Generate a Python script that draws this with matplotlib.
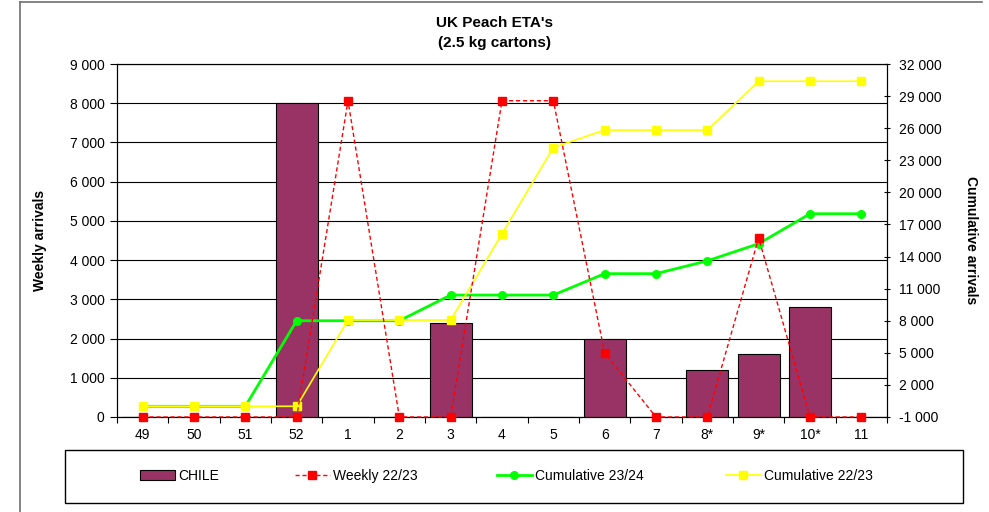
import matplotlib
matplotlib.use("Agg")
import matplotlib.pyplot as plt
from matplotlib.lines import Line2D
from matplotlib.patches import Rectangle
from matplotlib.ticker import FuncFormatter, FixedLocator, MultipleLocator

plt.rcParams['font.family'] = ['Liberation Sans', 'DejaVu Sans']

weeks = ["49", "50", "51", "52", "1", "2", "3", "4", "5", "6", "7", "8*", "9*", "10*", "11"]
chile = [0, 0, 0, 8000, 0, 0, 2400, 0, 0, 2000, 0, 1200, 1600, 2800, 0]
weekly_2223 = [0, 0, 0, 0, 8064, 0, 0, 8064, 8064, 1632, 0, 0, 4564, 0, 0]
cum_2324 = [0, 0, 0, 8000, 8000, 8000, 10400, 10400, 10400, 12400, 12400, 13600, 15200, 18000, 18000]
cum_2223 = [0, 0, 0, 0, 8064, 8064, 8064, 16128, 24192, 25824, 25824, 25824, 30388, 30388, 30388]

W, H = 989, 512
fig = plt.figure(figsize=(W / 100, H / 100), dpi=100)
ax = fig.add_axes([117 / W, 1 - 417 / H, (887 - 117) / W, (417 - 64) / H])
ax2 = ax.twinx()

x = list(range(len(weeks)))
fmt = FuncFormatter(lambda v, p: f"{int(v):,}".replace(",", " "))

ax2.patch.set_visible(False)

bars = ax.bar(x, chile, width=0.82, color="#993366", edgecolor="black", linewidth=0.8,
              label="CHILE", zorder=3)

ax.set_ylim(0, 9000)
ax.set_xlim(-0.5, len(weeks) - 0.5)
ax.yaxis.set_major_locator(MultipleLocator(1000))
ax.yaxis.set_major_formatter(fmt)
ax.grid(axis="y", color="black", linewidth=0.8, zorder=0)
ax.set_axisbelow(True)

# weekly series on left-axis scale, drawn on top via a third overlay axis
ax3 = ax.twinx()
ax3.patch.set_visible(False)
ax3.axis("off")

lg, = ax2.plot(x, cum_2324, color="#00FF00", linewidth=2, marker="o", markersize=5.5,
               label="Cumulative 23/24", zorder=4)
ly, = ax2.plot(x, cum_2223, color="#FFFF00", linewidth=1.2, marker="s", markersize=6,
               label="Cumulative 22/23", zorder=4)
lw, = ax3.plot(x, weekly_2223, color="#FF0000", linestyle=(0, (3, 2)), linewidth=1,
               marker="s", markersize=6, label="Weekly 22/23", zorder=6, clip_on=False)
ax3.set_ylim(0, 9000)
ax3.set_xlim(-0.5, len(weeks) - 0.5)

ax2.set_ylim(-1000, 32000)
ax2.yaxis.set_major_locator(FixedLocator(list(range(-1000, 32001, 3000))))
ax2.yaxis.set_major_formatter(fmt)

ax.set_xticks(x)
ax.set_xticklabels(weeks)
ax.set_xticks([i + 0.5 for i in range(-1, len(weeks))], minor=True)
ax.tick_params(axis="x", which="major", length=0, pad=8, labelsize=10)
ax.tick_params(axis="x", which="minor", length=4, direction="out", width=0.8)
ax.tick_params(axis="y", length=5, direction="out", width=0.8, labelsize=10, pad=4)
ax2.tick_params(axis="y", length=5, direction="inout", width=0.8, labelsize=10, pad=6)

for a in (ax, ax2):
    for s in a.spines.values():
        s.set_linewidth(0.8)
        s.set_color("black")

ax.set_ylabel("Weekly arrivals", fontsize=10, fontweight="bold", labelpad=16)
ax2.set_ylabel("Cumulative arrivals", fontsize=10, fontweight="bold", rotation=-90, labelpad=26)

fig.text(0.5, 1 - 23 / H, "UK Peach ETA's", ha="center", va="center", fontsize=11, fontweight="bold")
fig.text(0.5, 1 - 43 / H, "(2.5 kg cartons)", ha="center", va="center", fontsize=11, fontweight="bold")

# outer chart-area border (top and left visible)
fig.add_artist(Line2D([20 / W, 982 / W], [1 - 2 / H, 1 - 2 / H], transform=fig.transFigure,
                      color="#707070", linewidth=1.2))
fig.add_artist(Line2D([20 / W, 20 / W], [1 - 2 / H, 0], transform=fig.transFigure,
                      color="#707070", linewidth=1.2))

# legend box
fig.add_artist(Rectangle((65 / W, 1 - 503 / H), (963 - 65) / W, (503 - 450) / H,
                         transform=fig.transFigure, fill=False, edgecolor="black", linewidth=1))

wh = Line2D([], [], color="#FF0000", linestyle=(0, (3, 2)), linewidth=1, marker="s", markersize=6)
entries = [(bars, "CHILE", 140), (wh, "Weekly 22/23", 295),
           (lg, "Cumulative 23/24", 497), (ly, "Cumulative 22/23", 726)]
for h, lab, xs in entries:
    fig.legend([h], [lab], loc="center left", bbox_to_anchor=(xs / W, 1 - 476 / H),
               frameon=False, fontsize=10, handlelength=2.5, handletextpad=0.25,
               borderpad=0, borderaxespad=0)

fig.savefig("out.png", dpi=100)
